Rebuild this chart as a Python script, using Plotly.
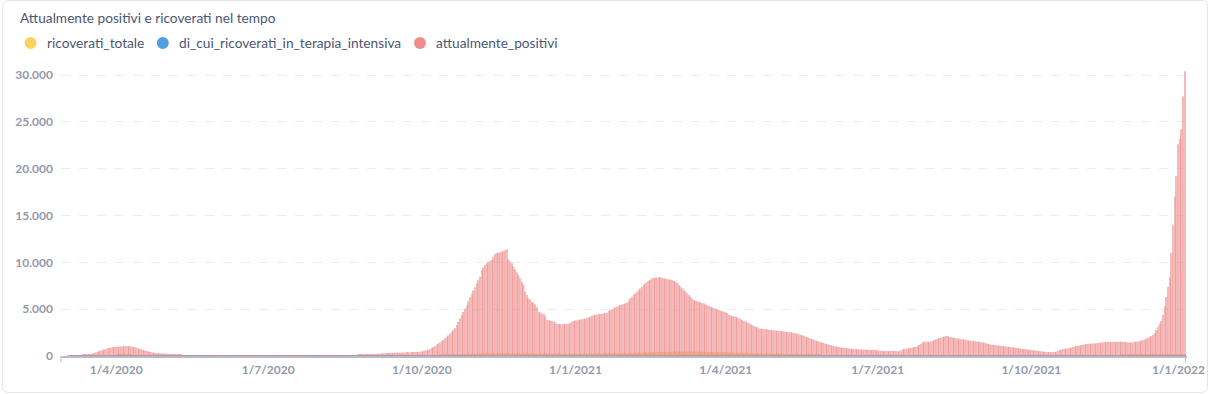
import pandas as pd
import plotly.graph_objects as go

# ---------------- DATA (daily values, from 2020-02-28) ----------------
start_date = "2020-02-28"

attualmente_positivi = [
    # 2020-02
    0, 0,
    # 2020-03
    0, 0, 20, 30, 40, 50, 60, 70, 80, 90, 100, 120, 140, 160, 190, 220, 250, 280, 330, 390,
    450, 520, 580, 640, 700, 760, 820, 880, 920, 950, 970,
    # 2020-04
    980, 1000, 1010, 1020, 1030, 1040, 1040, 1050, 1040, 1030, 1000, 960, 900, 840, 780,
    720, 660, 600, 550, 500, 460, 420, 380, 340, 310, 300, 290, 280, 270, 260,
    # 2020-05
    240, 220, 200, 190, 180, 170, 150, 130, 120, 110, 105, 100, 95, 90, 88, 86, 84, 82, 80,
    78, 76, 75, 74, 73, 72, 71, 70, 70, 70, 70, 70,
    # 2020-06
    70, 70, 68, 68, 66, 66, 65, 65, 64, 64, 63, 62, 62, 61, 60, 60, 59, 58, 58, 57,
    56, 56, 55, 55, 54, 54, 53, 52, 52, 51,
    # 2020-07
    50, 50, 48, 48, 48, 47, 47, 46, 46, 45, 45, 45, 44, 44, 44, 43, 43, 43, 42, 42,
    42, 42, 42, 43, 43, 44, 45, 46, 47, 48, 50,
    # 2020-08
    52, 54, 55, 56, 58, 60, 62, 64, 66, 68, 70, 72, 74, 76, 78, 80, 82, 85, 88, 90,
    92, 95, 100, 110, 120, 140, 160, 180, 195, 205, 210,
    # 2020-09
    215, 220, 225, 230, 240, 250, 260, 280, 300, 310, 320, 325, 330, 335, 340, 345, 350,
    355, 360, 370, 380, 390, 400, 410, 415, 420, 425, 430, 440, 460,
    # 2020-10
    480, 520, 580, 620, 660, 760, 860, 960, 1080, 1200, 1320, 1450, 1580, 1720, 1900, 2050,
    2200, 2400, 2600, 2800, 3000, 3300, 3650, 4000, 4380, 4700, 5050, 5400, 5850, 6300, 6650,
    # 2020-11
    7000, 7350, 7760, 8100, 8470, 9180, 9450, 9720, 9900, 10070, 10150, 10250, 10600, 10900,
    11000, 11030, 11070, 11120, 11200, 11300, 11400, 10300, 10100, 9900, 9550, 9250, 8950,
    8650, 8300, 7930,
    # 2020-12
    7600, 6870, 6500, 6160, 6000, 5800, 5650, 5520, 5200, 4730, 4650, 4550, 4480, 4200, 3840,
    3820, 3780, 3740, 3650, 3550, 3420, 3420, 3400, 3380, 3380, 3400, 3420, 3450, 3550, 3670, 3750,
    # 2021-01
    3800, 3820, 3850, 3900, 3920, 3950, 3980, 4050, 4130, 4200, 4300, 4380, 4400, 4420, 4450,
    4470, 4500, 4550, 4600, 4630, 4800, 4910, 5000, 5100, 5200, 5270, 5350, 5440, 5500, 5560, 5620,
    # 2021-02
    5700, 5900, 6160, 6350, 6500, 6690, 6850, 7050, 7230, 7400, 7580, 7760, 7930, 8050, 8150,
    8290, 8320, 8350, 8380, 8400, 8400, 8350, 8300, 8220, 8200, 8180, 8150, 8110,
    # 2021-03
    8000, 7930, 7800, 7580, 7400, 7230, 7050, 6870, 6690, 6510, 6350, 6150, 5980, 5900, 5850,
    5800, 5720, 5650, 5620, 5500, 5420, 5350, 5270, 5200, 5100, 5050, 4980, 4900, 4830, 4780, 4730,
    # 2021-04
    4650, 4550, 4380, 4330, 4280, 4240, 4200, 4100, 4000, 3920, 3840, 3750, 3670, 3580, 3490,
    3400, 3300, 3200, 3130, 3050, 2950, 2920, 2900, 2880, 2850, 2820, 2800, 2780, 2760, 2740,
    # 2021-05
    2720, 2700, 2680, 2660, 2640, 2620, 2600, 2560, 2530, 2510, 2490, 2460, 2420, 2380, 2330,
    2280, 2220, 2160, 2060, 2000, 1930, 1860, 1800, 1730, 1660, 1600, 1530, 1470, 1420, 1370, 1320,
    # 2021-06
    1250, 1200, 1150, 1100, 1060, 1020, 980, 950, 920, 890, 860, 840, 820, 800, 780,
    750, 740, 730, 720, 710, 700, 690, 680, 670, 665, 660, 650, 645, 640, 635,
    # 2021-07
    600, 570, 550, 540, 530, 530, 530, 530, 530, 530, 530, 530, 520, 500, 620,
    700, 760, 800, 830, 850, 880, 920, 960, 1000, 1100, 1180, 1300, 1450, 1550, 1530, 1520,
    # 2021-08
    1500, 1560, 1640, 1720, 1780, 1840, 1900, 1960, 2020, 2080, 2140, 2100, 2050, 2000, 1970,
    1930, 1890, 1860, 1830, 1800, 1780, 1750, 1720, 1680, 1640, 1620, 1600, 1580, 1560, 1540, 1530,
    # 2021-09
    1500, 1450, 1400, 1350, 1300, 1250, 1210, 1190, 1170, 1150, 1130, 1110, 1090, 1070, 1040,
    1010, 990, 970, 950, 930, 900, 870, 840, 820, 790, 760, 740, 710, 690, 660,
    # 2021-10
    640, 620, 600, 570, 550, 530, 500, 470, 450, 430, 420, 420, 420, 420, 430,
    460, 550, 650, 700, 740, 780, 810, 840, 870, 890, 950, 1010, 1070, 1100, 1130, 1170,
    # 2021-11
    1200, 1240, 1280, 1300, 1310, 1320, 1330, 1340, 1350, 1380, 1420, 1440, 1460, 1470, 1480,
    1490, 1500, 1500, 1500, 1500, 1500, 1510, 1520, 1530, 1530, 1500, 1470, 1460, 1450, 1440,
    # 2021-12
    1450, 1500, 1530, 1550, 1600, 1650, 1700, 1750, 1850, 1950, 2050, 2150, 2250, 2450, 2800,
    3150, 3500, 3750, 4400, 5300, 6300, 7400, 8400, 11000, 14000, 17000, 19200, 22600, 23200,
    24200, 27700,
    # 2022-01
    30400,
]

ricoverati_totale = [
    # 2020-02
    0, 0,
    # 2020-03
    0, 0, 2, 3, 4, 5, 6, 8, 10, 12, 14, 16, 18, 20, 25, 30, 35, 40, 45, 50,
    55, 60, 65, 70, 75, 80, 85, 90, 95, 100, 100,
    # 2020-04
    105, 108, 110, 112, 115, 115, 115, 112, 110, 108, 105, 100, 95, 90, 85,
    80, 75, 70, 65, 60, 55, 50, 48, 45, 42, 40, 38, 36, 34, 32,
    # 2020-05
    30, 29, 28, 27, 26, 25, 24, 23, 22, 21, 20, 19, 18, 17, 16, 15, 15, 14, 14, 13,
    13, 12, 12, 12, 11, 11, 11, 10, 10, 10, 10,
    # 2020-06
    10, 10, 10, 10, 10, 10, 10, 10, 10, 10, 11, 11, 11, 11, 12, 12, 12, 12, 13, 13,
    13, 14, 14, 14, 15, 15, 15, 16, 16, 16,
    # 2020-07
    17, 17, 18, 18, 18, 19, 19, 20, 20, 20, 20, 21, 21, 21, 22, 22, 22, 22, 23, 23,
    23, 23, 24, 24, 24, 24, 25, 25, 25, 25, 25,
    # 2020-08
    25, 25, 24, 24, 23, 22, 21, 20, 20, 20, 21, 22, 23, 24, 25, 26, 27, 28, 29, 30,
    30, 31, 32, 33, 34, 35, 36, 37, 38, 39, 40,
    # 2020-09
    40, 41, 42, 43, 44, 45, 46, 47, 48, 49, 50, 51, 52, 53, 54, 55, 56, 57, 58, 59,
    60, 61, 62, 63, 64, 65, 66, 67, 68, 70,
    # 2020-10
    72, 75, 78, 80, 83, 86, 90, 94, 98, 102, 106, 110, 115, 120, 125, 130, 135, 140, 146, 152,
    158, 164, 170, 176, 182, 188, 194, 200, 210, 220, 230,
    # 2020-11
    240, 250, 258, 265, 272, 278, 284, 290, 295, 298, 300, 302, 304, 305, 306,
    306, 305, 304, 303, 302, 300, 298, 295, 292, 290, 287, 284, 281, 278, 275,
    # 2020-12
    272, 270, 268, 265, 262, 260, 258, 255, 252, 250, 248, 246, 244, 242, 240,
    238, 236, 234, 232, 230, 228, 228, 228, 228, 230, 232, 234, 236, 238, 240, 242,
    # 2021-01
    244, 246, 248, 250, 252, 254, 256, 258, 260, 262, 264, 266, 268, 270, 272,
    274, 276, 278, 280, 282, 284, 286, 288, 290, 292, 294, 296, 298, 300, 305, 310,
    # 2021-02
    315, 320, 325, 330, 335, 340, 345, 350, 355, 360, 365, 370, 375, 380, 385,
    390, 395, 400, 405, 410, 415, 420, 425, 430, 435, 440, 445, 450,
    # 2021-03
    455, 458, 460, 462, 464, 465, 466, 466, 465, 464, 462, 460, 458, 455, 452,
    448, 444, 440, 436, 432, 428, 424, 420, 416, 412, 408, 404, 400, 396, 392, 388,
    # 2021-04
    384, 380, 376, 372, 368, 364, 360, 356, 352, 348, 344, 340, 335, 330, 325,
    320, 315, 310, 305, 300, 295, 290, 285, 280, 275, 270, 265, 260, 255, 250,
    # 2021-05
    245, 240, 235, 230, 225, 220, 215, 210, 205, 200, 195, 190, 185, 180, 175,
    170, 165, 160, 155, 150, 145, 140, 135, 130, 125, 120, 115, 110, 105, 100, 95,
    # 2021-06
    92, 89, 86, 83, 80, 77, 74, 71, 68, 65, 62, 60, 58, 56, 54,
    52, 50, 48, 46, 44, 42, 40, 38, 36, 35, 34, 33, 32, 31, 30,
    # 2021-07
    30, 29, 28, 28, 27, 27, 26, 26, 26, 25, 25, 25, 25, 25, 26,
    27, 28, 30, 32, 34, 36, 38, 40, 42, 44, 46, 48, 50, 52, 54, 56,
    # 2021-08
    58, 60, 62, 64, 66, 68, 70, 72, 74, 76, 78, 80, 82, 84, 85,
    86, 87, 88, 89, 90, 90, 90, 89, 88, 87, 86, 85, 84, 83, 82, 81,
    # 2021-09
    81, 80, 79, 78, 77, 76, 75, 74, 73, 72, 71, 70, 69, 68, 67,
    66, 65, 64, 63, 62, 61, 60, 59, 58, 57, 56, 55, 54, 53, 52,
    # 2021-10
    51, 50, 49, 48, 47, 46, 45, 44, 43, 42, 41, 40, 40, 40, 40,
    40, 41, 42, 43, 44, 45, 46, 47, 48, 49, 50, 52, 54, 56, 58, 60,
    # 2021-11
    62, 64, 66, 68, 70, 72, 74, 76, 78, 80, 82, 84, 86, 88, 90,
    92, 94, 96, 98, 100, 102, 104, 106, 108, 110, 112, 114, 116, 118, 120,
    # 2021-12
    122, 124, 126, 128, 130, 132, 134, 136, 138, 140, 142, 144, 146, 148, 150,
    152, 155, 158, 161, 164, 167, 170, 173, 176, 180, 184, 188, 192, 196, 200, 205,
    # 2022-01
    210,
]

di_cui_ricoverati_in_terapia_intensiva = [
    # 2020-02
    0, 0,
    # 2020-03
    0, 0, 0, 0, 1, 1, 1, 1, 2, 2, 2, 3, 3, 3, 4, 4, 5, 5, 6, 6,
    7, 7, 8, 8, 9, 9, 10, 10, 11, 11, 12,
    # 2020-04
    12, 12, 13, 13, 13, 13, 13, 12, 12, 12, 11, 11, 10, 10, 9,
    9, 8, 8, 7, 7, 6, 6, 6, 5, 5, 5, 4, 4, 4, 4,
    # 2020-05
    3, 3, 3, 3, 3, 3, 2, 2, 2, 2, 2, 2, 2, 2, 2, 1,
    1, 1, 1, 1, 1, 1, 1, 1, 1, 1, 1, 1, 1, 1, 1,
    # 2020-06
    1, 1, 1, 1, 1, 1, 1, 1, 1, 1, 1, 1, 1, 1, 1,
    1, 1, 1, 1, 1, 1, 1, 1, 1, 1, 1, 1, 1, 1, 1,
    # 2020-07
    1, 1, 1, 1, 1, 1, 1, 1, 1, 1, 1, 1, 1, 1, 1,
    1, 1, 1, 1, 1, 1, 1, 1, 1, 1, 1, 1, 1, 1, 1, 1,
    # 2020-08
    1, 1, 1, 1, 1, 1, 1, 1, 1, 1, 1, 1, 1, 1, 1, 1, 1, 1, 1, 1,
    2, 2, 2, 2, 2, 2, 2, 2, 2, 2, 2,
    # 2020-09
    2, 2, 2, 2, 2, 2, 2, 2, 2, 2, 3, 3, 3, 3, 3,
    3, 3, 3, 3, 3, 4, 4, 4, 4, 4, 4, 4, 4, 4, 4,
    # 2020-10
    4, 4, 5, 5, 5, 6, 6, 7, 7, 8, 8, 9, 9, 10, 11,
    12, 13, 14, 15, 16, 17, 18, 19, 20, 21, 22, 23, 24, 25, 26, 27,
    # 2020-11
    28, 29, 30, 31, 32, 33, 34, 35, 35, 36, 36, 37, 37, 37, 38,
    38, 38, 38, 37, 37, 37, 36, 36, 35, 35, 34, 34, 33, 33, 32,
    # 2020-12
    32, 31, 31, 30, 30, 29, 29, 28, 28, 27, 27, 26, 26, 25, 25,
    24, 24, 24, 23, 23, 23, 23, 23, 23, 23, 24, 24, 24, 25, 25, 25,
    # 2021-01
    25, 25, 26, 26, 26, 27, 27, 27, 28, 28, 28, 29, 29, 29, 30,
    30, 30, 31, 31, 31, 32, 32, 32, 33, 33, 33, 34, 34, 34, 35, 35,
    # 2021-02
    36, 37, 38, 39, 40, 41, 42, 43, 44, 45, 46, 47, 48, 49, 50,
    51, 52, 53, 54, 55, 56, 57, 58, 59, 60, 61, 62, 63,
    # 2021-03
    64, 65, 66, 66, 67, 67, 67, 67, 66, 66, 65, 64, 63, 62, 61,
    60, 59, 58, 57, 56, 55, 54, 53, 52, 51, 50, 49, 48, 47, 46, 45,
    # 2021-04
    44, 43, 42, 41, 40, 39, 38, 37, 36, 35, 34, 33, 32, 31, 30,
    29, 28, 27, 26, 25, 24, 23, 22, 21, 20, 19, 18, 17, 16, 15,
    # 2021-05
    15, 14, 14, 13, 13, 12, 12, 11, 11, 10, 10, 9, 9, 8, 8,
    7, 7, 6, 6, 6, 5, 5, 5, 5, 4, 4, 4, 4, 3, 3, 3,
    # 2021-06
    3, 3, 3, 3, 3, 2, 2, 2, 2, 2, 2, 2, 2, 2, 2,
    1, 1, 1, 1, 1, 1, 1, 1, 1, 1, 1, 1, 1, 1, 1,
    # 2021-07
    1, 1, 1, 1, 1, 1, 1, 1, 1, 1, 1, 1, 1, 1, 1,
    2, 2, 2, 2, 2, 2, 2, 2, 2, 2, 3, 3, 3, 3, 3, 3,
    # 2021-08
    3, 3, 3, 3, 3, 4, 4, 4, 4, 4, 4, 4, 4, 4, 4,
    5, 5, 5, 5, 5, 5, 5, 5, 5, 5, 6, 6, 6, 6, 6, 6,
    # 2021-09
    6, 6, 6, 6, 6, 5, 5, 5, 5, 5, 5, 5, 5, 5, 5,
    4, 4, 4, 4, 4, 4, 4, 4, 4, 4, 3, 3, 3, 3, 3,
    # 2021-10
    3, 3, 3, 3, 3, 3, 3, 3, 3, 3, 3, 3, 3, 3, 3, 3,
    4, 4, 4, 4, 4, 4, 4, 4, 4, 4, 5, 5, 5, 5, 5,
    # 2021-11
    5, 5, 5, 5, 5, 6, 6, 6, 6, 6, 7, 7, 7, 7, 7,
    8, 8, 8, 8, 8, 9, 9, 9, 9, 9, 10, 10, 10, 10, 10,
    # 2021-12
    10, 11, 11, 12, 12, 13, 13, 14, 14, 15, 15, 16, 16, 17, 17,
    18, 18, 19, 19, 20, 20, 21, 21, 22, 22, 23, 24, 25, 26, 27, 28,
    # 2022-01
    29,
]

x_tick_dates = ["2020-04-01", "2020-07-01", "2020-10-01", "2021-01-01",
                "2021-04-01", "2021-07-01", "2021-10-01", "2022-01-01"]
x_tick_labels = ["1/4/2020", "1/7/2020", "1/10/2020", "1/1/2021",
                 "1/4/2021", "1/7/2021", "1/10/2021", "1/1/2022"]
y_tick_values = [0, 5000, 10000, 15000, 20000, 25000, 30000]

series_names = ["ricoverati_totale", "di_cui_ricoverati_in_terapia_intensiva", "attualmente_positivi"]
series_colors = ["#F9D45C", "#509EE3", "#EF8C8C"]

title_text = "Attualmente positivi e ricoverati nel tempo"

# ---------------- FIGURE ----------------
dates = pd.date_range(start_date, periods=len(attualmente_positivi), freq="D")

W, H = 1210, 394
L, R, T, B = 61, 1187, 66, 356   # plot area in pixels


def px_x(p):
    return (p - L) / (R - L)


def px_y(p):
    return (B - p) / (B - T)


fig = go.Figure()
series_values = [ricoverati_totale, di_cui_ricoverati_in_terapia_intensiva, attualmente_positivi]
opacities = [1.0, 1.0, 0.6]
for name, vals, col, op in zip(series_names, series_values, series_colors, opacities):
    fig.add_trace(go.Bar(
        x=dates, y=vals, name=name,
        marker=dict(color=col, opacity=op, line=dict(width=0)),
        showlegend=False, hoverinfo="skip",
    ))

tick_font = dict(family="Lato", size=12, color="#949AAB", weight=700)
text_color = "#4C5773"
label_size = 13.7

fig.update_layout(
    width=W, height=H,
    margin=dict(l=L, r=W - R, t=T, b=H - B, pad=0),
    paper_bgcolor="white", plot_bgcolor="white",
    barmode="overlay", bargap=0.12,
    separators=",.",
    font=dict(family="Lato", color=text_color),
    title=dict(text=title_text, x=20 / W, xref="container", xanchor="left",
               y=1 - 18 / H, yref="container", yanchor="middle",
               font=dict(family="Lato", size=label_size, color=text_color)),
    xaxis=dict(
        type="date",
        range=["2020-02-27 22:00", "2022-01-02 05:00"],
        tickmode="array", tickvals=x_tick_dates[:-1], ticktext=x_tick_labels[:-1],
        tickfont=tick_font, showgrid=False, zeroline=False,
        showline=True, linecolor="#B9BCC6", linewidth=1.5,
        ticks="", ticklabelstandoff=2, fixedrange=True,
    ),
    yaxis=dict(
        range=[0, 30961],
        tickmode="array", tickvals=y_tick_values, tickformat=",d",
        tickfont=tick_font, showgrid=True, gridcolor="#EBECEF", griddash="dash",
        gridwidth=1, zeroline=False, showline=False, ticks="",
        ticklabelstandoff=7, fixedrange=True,
    ),
)

shapes = []
annotations = []
# card border
x0, x1 = px_x(2.5), px_x(1207.5)
y0, y1 = px_y(392.5), px_y(0.5)
rx, ry = 6 / (R - L), 6 / (B - T)
card_path = (f"M {x0 + rx},{y0} L {x1 - rx},{y0} Q {x1},{y0} {x1},{y0 + ry} "
             f"L {x1},{y1 - ry} Q {x1},{y1} {x1 - rx},{y1} "
             f"L {x0 + rx},{y1} Q {x0},{y1} {x0},{y1 - ry} "
             f"L {x0},{y0 + ry} Q {x0},{y0} {x0 + rx},{y0} Z")
shapes.append(dict(type="path", path=card_path, xref="paper", yref="paper",
                   line=dict(color="#E4E6EA", width=1), fillcolor="rgba(0,0,0,0)",
                   layer="below"))
# axis end ticks
for xp in (L, R - 1.5):
    shapes.append(dict(type="line", xref="paper", yref="paper",
                       x0=px_x(xp), x1=px_x(xp), y0=px_y(356), y1=px_y(362),
                       line=dict(color="#B9BCC6", width=1)))

# last x label, placed like the reference (shifted left to fit inside the card)
annotations.append(dict(text=x_tick_labels[-1], xref="paper", yref="paper",
                        x=px_x(1178), y=px_y(369), xanchor="center", yanchor="middle",
                        showarrow=False, font=tick_font))

# custom legend (circle markers + text)
legend_dot_x = [30.6, 162.8, 420.0]
legend_text_x = [45.0, 177.0, 434.0]
legend_y = 43
for name, col, dx, tx in zip(series_names, series_colors, legend_dot_x, legend_text_x):
    shapes.append(dict(type="circle", xref="paper", yref="paper",
                       xsizemode="pixel", ysizemode="pixel",
                       xanchor=px_x(dx), yanchor=px_y(legend_y),
                       x0=-6, x1=6, y0=-6, y1=6,
                       fillcolor=col, line=dict(width=0)))
    annotations.append(dict(text=name, xref="paper", yref="paper",
                            x=px_x(tx), y=px_y(legend_y), xanchor="left", yanchor="middle",
                            showarrow=False,
                            font=dict(family="Lato", size=label_size, color=text_color)))

fig.update_layout(shapes=shapes, annotations=annotations)

fig.write_html(
    "out.html",
    config={"displayModeBar": False},
    post_script="document.body.style.margin='0';document.body.style.overflow='hidden';",
)
